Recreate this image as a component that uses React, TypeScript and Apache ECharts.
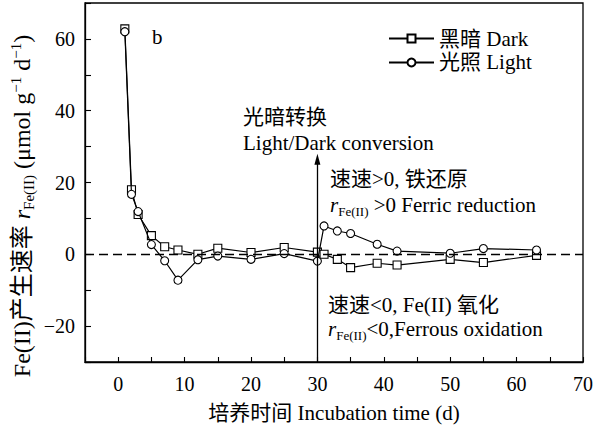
import React, { useEffect, useRef } from "react";
import * as echarts from "echarts";

// Incubation day of each measurement
const days = [1, 2, 3, 5, 7, 9, 12, 15, 20, 25, 30, 31, 33, 35, 39, 42, 50, 55, 63];
// Fe(II) production rate, µmol g-1 d-1
const darkRate = [62.8, 18, 11.1, 5.2, 2.1, 1.2, 0, 1.7, 0.5, 1.9, 0.6, 0, -1.4, -3.7, -2.5, -3.0, -1.4, -2.3, -0.3];
const lightRate = [62.0, 16.7, 11.9, 2.7, -1.8, -7.2, -1.5, -0.5, -1.4, 0.2, -1.9, 7.9, 6.5, 5.8, 2.8, 0.9, 0.3, 1.6, 1.2];
const seriesNames = ["黑暗 Dark", "光照 Light"];
// Day of the light/dark switch and the height of its arrow
const switchDay = 30;
const arrowTop = 26.5;

const FONT = '"Liberation Serif", "Noto Sans CJK SC", serif';

function makeRich(size: number) {
  const small = Math.round(size * 0.62);
  return {
    t: { fontSize: size, fontFamily: FONT, lineHeight: size + 4, color: "#000" },
    r: { fontSize: size, fontFamily: FONT, fontStyle: "italic", lineHeight: size + 4, color: "#000" },
    sub: { fontSize: small, fontFamily: FONT, verticalAlign: "bottom", lineHeight: small, color: "#000" },
    sup: { fontSize: small, fontFamily: FONT, verticalAlign: "top", lineHeight: small, color: "#000" },
  };
}

function txt(x: number, y: number, text: string, size = 21) {
  return {
    type: "text",
    x,
    y,
    style: {
      text,
      fill: "#000",
      fontSize: size,
      fontFamily: FONT,
      align: "left",
      verticalAlign: "middle",
      rich: makeRich(size),
    },
  };
}

export default function App() {
  const ref = useRef<HTMLDivElement>(null);

  useEffect(() => {
    if (!ref.current) return;
    const chart = echarts.init(ref.current, undefined, { renderer: "svg" });

    const fmtNum = (v: number) => (v < 0 ? "\u2212" + Math.abs(v) : String(v));

    const lineSeries = (name: string, values: number[], symbol: string, extra: any = {}) => ({
      name,
      type: "line",
      data: days.map((d, i) => [d, values[i]]),
      symbol,
      symbolSize: 8,
      showAllSymbol: true,
      lineStyle: { color: "#000", width: 1.2 },
      itemStyle: { color: "#fff", borderColor: "#000", borderWidth: 1.1 },
      emphasis: { disabled: true },
      z: symbol === "circle" ? 3 : 2,
      ...extra,
    });

    chart.setOption({
      animation: false,
      backgroundColor: "#fff",
      textStyle: { fontFamily: FONT, color: "#000" },
      grid: {
        left: 85,
        right: 27,
        top: 3,
        bottom: 65,
        show: true,
        borderColor: "#000",
        borderWidth: 1.3,
        backgroundColor: "transparent",
      },
      legend: {
        orient: "vertical",
        left: 388,
        top: 28,
        padding: 0,
        itemWidth: 45,
        itemHeight: 10,
        itemGap: 3,
        textStyle: { fontSize: 21, fontFamily: FONT, color: "#000" },
        data: seriesNames,
      },
      xAxis: {
        type: "value",
        min: -5,
        max: 70,
        interval: 5,
        axisLine: { show: true, onZero: false, lineStyle: { color: "#000", width: 1.3 } },
        axisTick: { show: true, inside: true, length: 5, lineStyle: { color: "#000", width: 1.1 } },
        axisLabel: {
          formatter: (v: number) => (v % 10 === 0 ? fmtNum(v) : ""),
          margin: 12,
          fontSize: 20,
          fontFamily: FONT,
          color: "#000",
        },
        splitLine: { show: false },
        name: "培养时间 Incubation time (d)",
        nameLocation: "middle",
        nameGap: 40,
        nameTextStyle: { fontSize: 21, fontFamily: FONT, color: "#000" },
      },
      yAxis: {
        type: "value",
        min: -30,
        max: 70,
        interval: 10,
        axisLine: { show: true, onZero: false, lineStyle: { color: "#000", width: 1.3 } },
        axisTick: { show: true, inside: true, length: 6, lineStyle: { color: "#000", width: 1.1 } },
        axisLabel: {
          formatter: (v: number) => (v % 20 === 0 ? fmtNum(v) : ""),
          margin: 10,
          fontSize: 20,
          fontFamily: FONT,
          color: "#000",
        },
        splitLine: { show: false },
      },
      series: [
        lineSeries(seriesNames[0], darkRate, "rect", {
          markLine: {
            silent: true,
            symbol: ["none", "none"],
            label: { show: false },
            emphasis: { disabled: true },
            data: [
              {
                yAxis: 0,
                lineStyle: { color: "#000", width: 1.3, type: [9, 5] },
              },
              [
                {
                  coord: [switchDay, -30],
                  symbol: "none",
                  lineStyle: { color: "#000", width: 1.3, type: "solid" },
                },
                { coord: [switchDay, arrowTop], symbol: "triangle", symbolSize: [6, 11] },
              ],
            ],
          },
        }),
        lineSeries(seriesNames[1], lightRate, "circle"),
      ],
      graphic: [
        txt(152, 37, "b"),
        txt(243, 117, "光暗转换"),
        txt(243, 143, "Light/Dark conversion"),
        txt(330, 179, "速速>0, 铁还原"),
        txt(330, 205, "{r|r}{sub|Fe(II)}{t| >0 Ferric reduction}"),
        txt(328, 305, "速速<0, Fe(II) 氧化"),
        txt(328, 329, "{r|r}{sub|Fe(II)}{t|<0,Ferrous oxidation}"),
        {
          type: "text",
          x: 22,
          y: 206,
          rotation: Math.PI / 2,
          style: {
            text: "{t|Fe(II)产生速率 }{r|r}{sub|Fe(II)}{t| (μmol g}{sup|−1}{t| d}{sup|−1}{t|)}",
            fill: "#000",
            fontSize: 24,
            fontFamily: FONT,
            align: "center",
            verticalAlign: "middle",
            rich: makeRich(24),
          },
        },
      ],
    });

    return () => chart.dispose();
  }, []);

  return (
    <div
      ref={ref}
      style={{ position: "fixed", left: 0, top: 0, width: 610, height: 428, background: "#fff" }}
    />
  );
}
